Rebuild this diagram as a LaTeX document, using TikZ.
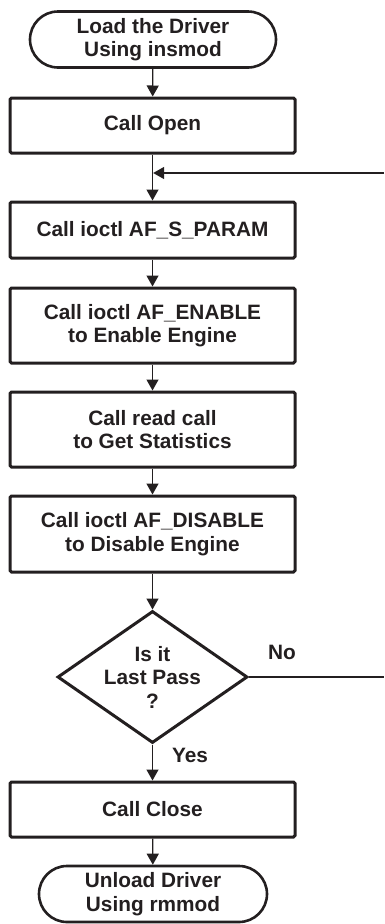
\documentclass[tikz,border=0pt]{standalone}
\usepackage{fontspec}
\setmainfont{Liberation Sans}
\usetikzlibrary{shapes.geometric,arrows.meta}
\definecolor{ink}{HTML}{231F20}
\tikzset{
  txt/.style={font=\bfseries\fontsize{20.8}{23.5}\selectfont, text=ink, align=center},
  procbox/.style={txt, draw=ink, line width=3pt, rounded corners=1.5pt, minimum width=285pt, inner sep=0pt},
  termbox/.style={txt, draw=ink, line width=2.6pt, rounded corners=28pt, minimum height=56pt, inner sep=0pt},
  decision/.style={diamond, draw=ink, line width=3pt, minimum width=190pt, minimum height=132pt, inner sep=0pt},
  conn/.style={draw=ink, line width=1.3pt},
  arr/.style={conn, -{Triangle[width=12pt,length=11pt]}},
  lbl/.style={txt, inner sep=0pt}
}
\begin{document}
\begin{tikzpicture}[x=1pt,y=-1pt]
\useasboundingbox (0,0) rectangle (384,924);
\node[termbox, minimum width=246pt] (start) at (153,39.5) {Load the Driver\\Using insmod};
\node[procbox, minimum height=55pt] (open) at (152.5,125.5) {Call Open};
\coordinate (merge) at (152.5,173);
\node[procbox, minimum height=56pt] (sparam) at (152.5,230) {Call ioctl AF\_S\_PARAM};
\node[procbox, minimum height=75pt] (enable) at (152.5,325.5) {Call ioctl AF\_ENABLE\\to Enable Engine};
\node[procbox, minimum height=75pt] (read) at (152.5,429.5) {Call read call\\to Get Statistics};
\node[procbox, minimum height=76pt] (disable) at (152.5,534) {Call ioctl AF\_DISABLE\\to Disable Engine};
\node[decision] (dec) at (152.5,677) {};
\node[lbl] (dectxt) at (dec.center) {\fontsize{20.8}{22}\selectfont Is it\\Last Pass\\?};
\node[procbox, minimum height=55pt] (close) at (152.5,809.5) {Call Close};
\node[termbox, minimum width=228pt] (unload) at (153,894) {Unload Driver\\Using rmmod};
\coordinate (rb) at (384,677);
\coordinate (rt) at (384,173);
\node[lbl] (nolbl) at (282,652) {No};
\node[lbl] (yeslbl) at (190,755) {Yes};
\draw[arr] (start) -- (open);
\draw[arr] (open) -- (sparam);
\draw[arr] (sparam) -- (enable);
\draw[arr] (enable) -- (read);
\draw[arr] (read) -- (disable);
\draw[arr] (disable) -- (dec);
\draw[arr] (dec) -- (close);
\draw[arr] (close) -- (unload);
\draw[conn] (dec.east) -- (rb);
\draw[arr] (rt) -- ([xshift=0.65pt]merge);
\end{tikzpicture}
\end{document}
